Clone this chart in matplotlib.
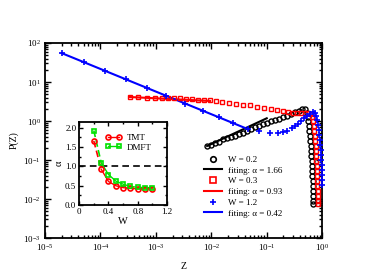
import matplotlib
matplotlib.use("Agg")
import matplotlib.pyplot as plt
import matplotlib.ticker as mt
import numpy as np

plt.rcParams["font.family"] = ["Liberation Serif", "DejaVu Serif"]
plt.rcParams["mathtext.fontset"] = "stix"

# W = 0.2 (black circles)
z_w02 = [0.0084, 0.0099, 0.0117, 0.0138, 0.0163, 0.0193, 0.0228, 0.0269, 0.0318,
         0.0375, 0.0443, 0.0522, 0.0618, 0.0729, 0.0861, 0.1016, 0.120, 0.142,
         0.168, 0.198, 0.233, 0.275, 0.326, 0.385, 0.436, 0.493,
         0.530, 0.545, 0.560, 0.575, 0.590, 0.600, 0.610, 0.620, 0.628, 0.636,
         0.644, 0.652, 0.658, 0.664, 0.670, 0.676, 0.682, 0.686, 0.690, 0.694]
p_w02 = [0.229, 0.249, 0.273, 0.298, 0.345, 0.366, 0.401, 0.425, 0.464,
         0.507, 0.570, 0.642, 0.701, 0.767, 0.838, 0.916, 1.00, 1.06,
         1.16, 1.27, 1.38, 1.51, 1.70, 1.86, 2.03, 2.03,
         1.60, 1.27, 1.00, 0.745, 0.555, 0.412, 0.307, 0.229, 0.170, 0.127,
         0.094, 0.070, 0.052, 0.039, 0.029, 0.0216, 0.016, 0.012, 0.0089, 0.0074]

# W = 0.3 (red squares)
z_w03 = [3.42e-4, 4.78e-4, 6.93e-4, 9.68e-4, 1.29e-3, 1.66e-3, 2.13e-3, 2.74e-3,
         3.51e-3, 4.50e-3, 5.78e-3, 7.41e-3, 9.51e-3, 0.0122, 0.0157, 0.0209,
         0.0281, 0.0375, 0.0501, 0.0671, 0.0897, 0.120, 0.154, 0.198, 0.243,
         0.300, 0.354, 0.418, 0.493, 0.558, 0.632,
         0.660, 0.680, 0.700, 0.715, 0.730, 0.745, 0.760, 0.770, 0.780, 0.790,
         0.800, 0.805, 0.810, 0.815, 0.820, 0.825, 0.830, 0.835, 0.840]
p_w03 = [4.12, 4.01, 3.89, 3.89, 3.89, 3.78, 3.78, 3.78,
         3.66, 3.66, 3.56, 3.45, 3.36, 3.26, 3.07, 2.90,
         2.81, 2.65, 2.50, 2.29, 2.15, 2.03, 1.91, 1.80, 1.70,
         1.65, 1.60, 1.60, 1.60, 1.56, 1.51,
         1.27, 1.00, 0.745, 0.555, 0.412, 0.307, 0.229, 0.170, 0.127, 0.094,
         0.070, 0.052, 0.039, 0.029, 0.0216, 0.016, 0.012, 0.0089, 0.0074]

# W = 1.2 (blue plus)
z_w12 = [2.0e-5, 5.0e-5, 1.2e-4, 2.95e-4, 6.9e-4, 1.5e-3, 3.4e-3, 7.1e-3,
         0.0138, 0.025, 0.046,
         0.073, 0.115, 0.160, 0.198, 0.233, 0.287, 0.326, 0.369, 0.418, 0.473,
         0.536, 0.607, 0.688,
         0.75, 0.78, 0.81, 0.84, 0.87, 0.89, 0.91, 0.93, 0.945, 0.955, 0.965,
         0.975, 0.98, 0.985, 0.99, 0.995]
p_w12 = [55.0, 32.0, 19.5, 11.7, 7.1, 4.5, 2.8, 1.85,
         1.26, 0.89, 0.63,
         0.555, 0.49, 0.49, 0.52, 0.555, 0.66, 0.745, 0.84, 1.00, 1.19,
         1.34, 1.51, 1.70,
         1.60, 1.34, 1.06, 0.789, 0.588, 0.438, 0.326, 0.243, 0.180, 0.134, 0.100,
         0.0744, 0.0554, 0.0412, 0.0307, 0.0229]

# power-law fits P(Z) ~ Z^(alpha - 1): (alpha, z_start, z_end, p_at_start)
fit_w02 = (1.66, 0.0084, 0.10, 0.229)
fit_w03 = (0.93, 3.42e-4, 0.0095, 4.12)
fit_w12 = (0.42, 2.0e-5, 0.048, 55.0)

# inset: alpha vs W
w_inset = [0.2, 0.3, 0.4, 0.5, 0.6, 0.7, 0.8, 0.9, 1.0]
alpha_tmt = [1.66, 0.93, 0.61, 0.50, 0.45, 0.43, 0.42, 0.42, 0.42]
alpha_dmft = [1.93, 1.10, 0.79, 0.62, 0.54, 0.48, 0.46, 0.45, 0.45]

GREEN = "#00e000"


def fit_line(fit):
    alpha, z0, z1, p0 = fit
    z = np.array([z0, z1])
    return z, p0 * (z / z0) ** (alpha - 1)


def style_ticks(ax, major, minor):
    ax.tick_params(which="both", direction="in", top=True, right=True, width=1.0)
    ax.tick_params(which="major", length=major)
    ax.tick_params(which="minor", length=minor)
    for s in ax.spines.values():
        s.set_linewidth(1.3)


fig = plt.figure(figsize=(3.86, 2.73), dpi=100)
ax = fig.add_axes([0.1166, 0.128, 0.718, 0.7145])

ax.plot(*fit_line(fit_w02), color="black", lw=1.5, zorder=2)
ax.plot(*fit_line(fit_w03), color="red", lw=1.5, zorder=2)
ax.plot(*fit_line(fit_w12), color="blue", lw=1.5, zorder=2)

ax.plot(z_w02, p_w02, ls="none", marker="o", ms=3.6, mfc="none", mec="black",
        mew=1.0, clip_on=False, zorder=3)
ax.plot(z_w03, p_w03, ls="none", marker="s", ms=3.3, mfc="none", mec="red",
        mew=1.0, clip_on=False, zorder=3)
ax.plot(z_w12, p_w12, ls="none", marker="+", ms=4.6, mec="blue",
        mew=1.2, clip_on=False, zorder=3)

ax.set_xscale("log")
ax.set_yscale("log")
ax.set_xlim(1e-5, 1)
ax.set_ylim(1e-3, 1e2)
ax.xaxis.set_minor_locator(mt.LogLocator(base=10, subs=np.arange(2, 10)))
ax.yaxis.set_minor_locator(mt.LogLocator(base=10, subs=np.arange(2, 10)))
ax.xaxis.set_minor_formatter(mt.NullFormatter())
ax.yaxis.set_minor_formatter(mt.NullFormatter())
style_ticks(ax, 4.0, 2.2)
ax.tick_params(labelsize=6.5, pad=3)
ax.set_xlabel("Z", fontsize=7, labelpad=6)
ax.set_ylabel("P(Z)", fontsize=7, labelpad=3)

# legend handles
h = []
h += ax.plot([], [], ls="none", marker="o", ms=4.0, mfc="none", mec="black", mew=1.2)
h += ax.plot([], [], color="black", lw=1.5)
h += ax.plot([], [], ls="none", marker="s", ms=3.8, mfc="none", mec="red", mew=1.2)
h += ax.plot([], [], color="red", lw=1.5)
h += ax.plot([], [], ls="none", marker="+", ms=5.0, mec="blue", mew=1.2)
h += ax.plot([], [], color="blue", lw=1.5)
labels = ["W = 0.2", "fiting: α = 1.66", "W = 0.3", "fiting: α = 0.93",
          "W = 1.2", "fiting: α = 0.42"]
ax.legend(h, labels, loc="lower left", bbox_to_anchor=(0.575, 0.105),
          frameon=False, fontsize=6.5, labelspacing=0.27, handlelength=1.9,
          handletextpad=0.7, borderpad=0, borderaxespad=0)

# inset
ins = fig.add_axes([0.205, 0.249, 0.228, 0.304])
ins.axhline(1.0, color="black", ls="--", lw=1.2, dashes=(4, 2.5))
ins.plot(w_inset[:2], alpha_tmt[:2], color="red", ls="--", lw=1.2, dashes=(4, 2))
ins.plot(w_inset[:2], alpha_dmft[:2], color=GREEN, ls="--", lw=1.2, dashes=(4, 2))
ins.plot(w_inset[1:], alpha_tmt[1:], color="red", lw=1.0)
ins.plot(w_inset[1:], alpha_dmft[1:], color=GREEN, lw=1.0)
ins.plot(w_inset, alpha_tmt, ls="none", marker="o", ms=3.6, mfc="none", mec="red", mew=1.2)
ins.plot(w_inset, alpha_dmft, ls="none", marker="s", ms=3.4, mfc="none",
         mec=GREEN, mew=1.2)
ins.set_xlim(0, 1.2)
ins.set_ylim(0, 2.15)
ins.set_xticks([0, 0.4, 0.8, 1.2])
ins.set_xticklabels(["0", "0.4", "0.8", "1.2"])
ins.set_yticks([0, 0.5, 1.0, 1.5, 2.0])
ins.set_yticklabels(["0.0", "0.5", "1.0", "1.5", "2.0"])
ins.xaxis.set_minor_locator(mt.MultipleLocator(0.2))
ins.yaxis.set_minor_locator(mt.MultipleLocator(0.25))
style_ticks(ins, 3.0, 1.6)
ins.tick_params(labelsize=6.5, pad=2)
ins.set_xlabel("W", fontsize=7.5, labelpad=1)
ins.set_ylabel("α", fontsize=7.5, labelpad=1)

ih = []
ih += ins.plot([], [], color="red", lw=1.0, marker="o", ms=3.6, mfc="none", mec="red", mew=1.2)
ih += ins.plot([], [], color=GREEN, lw=1.0, marker="s", ms=3.4, mfc="none",
               mec=GREEN, mew=1.2)
ins.legend(ih, ["TMT", "DMFT"], loc="upper left", bbox_to_anchor=(0.30, 0.86),
           frameon=False, fontsize=6.5, numpoints=2, labelspacing=0.15,
           handlelength=1.8, handletextpad=0.5, borderpad=0, borderaxespad=0)

fig.savefig("out.png", dpi=100)
